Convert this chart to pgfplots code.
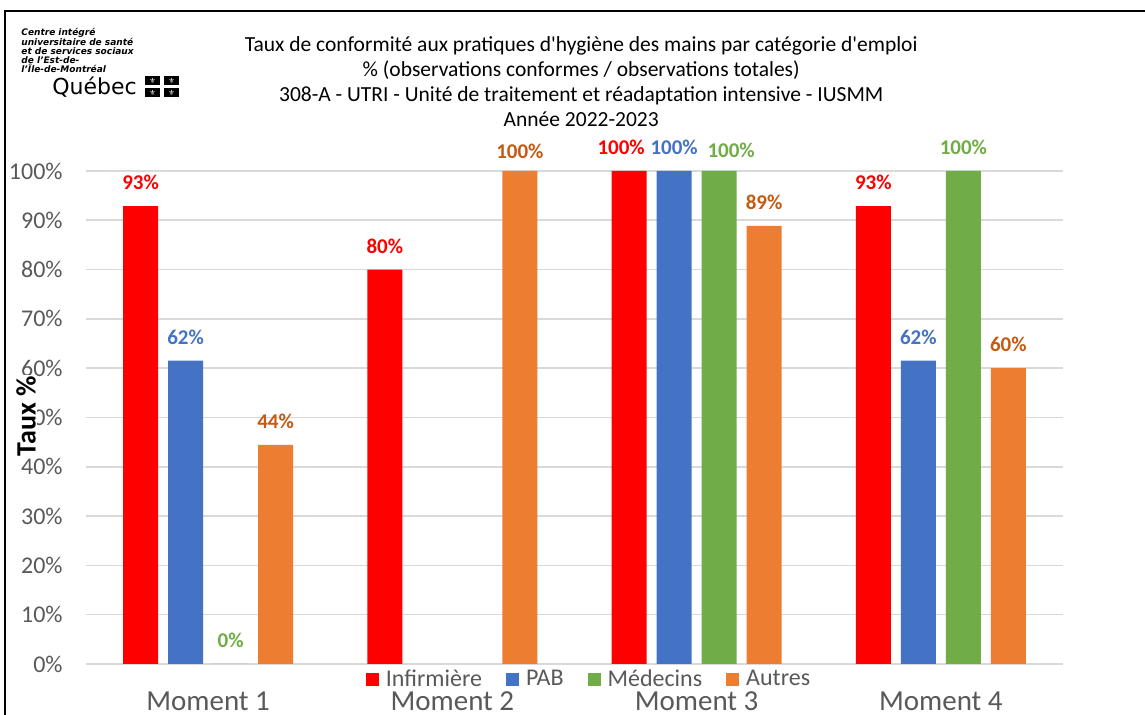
\documentclass[border=0pt]{standalone}
\usepackage{pgfplots}
\usepackage{pgfplotstable}
\pgfplotsset{compat=1.18}
\usepackage{fontspec}
\setmainfont{Carlito}[Ligatures=TeXOff]
\newfontfamily\logofont{DejaVu Sans}
\definecolor{cred}{HTML}{FF0000}
\definecolor{cblue}{HTML}{4472C4}
\definecolor{cgreen}{HTML}{70AD47}
\definecolor{corange}{HTML}{ED7D31}
\definecolor{corangelab}{HTML}{C55A11}
\definecolor{cgray}{HTML}{595959}
\definecolor{cgrid}{HTML}{D9D9D9}
\pgfplotsset{sqlegend/.style={legend image code/.code={\fill[##1] (0pt,-3.25pt) rectangle (6.5pt,3.25pt);}}}
% x = moment index, y = value (%), dx/dy = label offsets (pt)
\pgfplotstableread{
x y dx dy
0 92.86 0 4.5
1 80 0 4.5
2 100 -4 4.5
3 92.86 0 4.5
}\infirmiere
\pgfplotstableread{
x y dx dy
0 61.54 0 4.5
2 100 0 4.5
3 61.54 0 4.5
}\pab
\pgfplotstableread{
x y dx dy
0 0 0 4.5
2 100 6 3
3 100 0 4.5
}\medecins
\pgfplotstableread{
x y dx dy
0 44.44 0 4.5
1 100 0 2.5
2 88.89 0 4.5
3 60 0 4.5
}\autres
\begin{document}
\begin{tikzpicture}
\useasboundingbox (0,0) rectangle (572.5pt,357.5pt);
\fill[white] (0,0) rectangle (572.5pt,357.5pt);
\draw[line width=0.9pt] (2.5pt,0) -- (2.5pt,352pt) -- (572.5pt,352pt);
% logo
\begin{scope}[every node/.style={anchor=base west, inner sep=0pt, font=\logofont\bfseries\itshape\fontsize{4.5}{5}\selectfont}]
\node at (10.5pt,339.5pt) {Centre intégré};
\node at (10.5pt,334.9pt) {universitaire de santé};
\node at (10.5pt,330.3pt) {et de services sociaux};
\node at (10.5pt,325.7pt) {de l’Est-de-};
\node at (10.5pt,321.1pt) {l’Île-de-Montréal};
\end{scope}
\node[anchor=base west, inner sep=0pt, font=\logofont\fontsize{11}{12}\selectfont] at (26pt,310pt) {Québec};
\foreach \x in {72.5pt,82pt}{
  \foreach \y in {309pt,315pt}{
    \fill[black] (\x,\y) rectangle ++(7.5pt,4.5pt);
    \node[text=white, inner sep=0pt, font=\logofont\fontsize{3.6}{3}\selectfont] at ([xshift=3.75pt,yshift=2.25pt]\x,\y) {⚜};
  }
}
% title
\begin{scope}[every node/.style={anchor=base, inner sep=0pt, font=\fontsize{10.75}{12}\selectfont}]
\node at (290.6pt,331.6pt) {Taux de conformité aux pratiques d'hygiène des mains par catégorie d'emploi};
\node at (290.6pt,319.1pt) {\% (observations conformes / observations totales)};
\node at (290.6pt,306.6pt) {308-A - UTRI - Unité de traitement et réadaptation intensive - IUSMM};
\node at (290.6pt,294.1pt) {Année 2022-2023};
\end{scope}
\begin{axis}[
  at={(43pt,25.5pt)}, anchor=south west,
  scale only axis, width=488.5pt, height=246.5pt,
  xmin=-0.5, xmax=3.5, ymin=0, ymax=100,
  clip=false,
  ybar=5pt, bar width=17.5pt,
  axis line style={draw=none},
  major tick length=0pt, tick style={draw=none},
  ymajorgrids, grid style={color=cgrid, line width=0.8pt},
  ytick={0,10,...,100},
  yticklabel={\pgfmathprintnumber{\tick}\%},
  /pgf/number format/assume math mode=true,
  yticklabel style={font=\fontsize{12}{14}\selectfont, text=cgray, anchor=east, inner sep=0pt, xshift=-11.5pt},
  xtick={0,1,2,3}, xticklabels={Moment 1,Moment 2,Moment 3,Moment 4},
  xticklabel style={font=\fontsize{14.5}{16}\selectfont, text=cgray, anchor=base, inner sep=0pt, yshift=-23.5pt},
  visualization depends on={\thisrow{dx} \as \dx},
  visualization depends on={\thisrow{dy} \as \dy},
  nodes near coords={\pgfmathprintnumber[fixed,precision=0]{\pgfplotspointmeta}\%},
  every node near coord/.append style={font=\bfseries\fontsize{10.5}{12}\selectfont, xshift=\dx pt, yshift=\dy pt},
  legend style={draw=none, fill=none, at={(0.5138,-0.032)}, anchor=center,
    font=\fontsize{12}{14}\selectfont, text=cgray,
    /tikz/every odd column/.append style={column sep=3.5pt},
    /tikz/every even column/.append style={column sep=12pt},
    nodes={inner xsep=0pt, inner ysep=0.5pt}},
  legend columns=4, legend cell align=left,
]
\addplot[fill=cred, draw=none, sqlegend, every node near coord/.append style={text=cred}]
  table[x=x, y=y] {\infirmiere};
\addplot[fill=cblue, draw=none, sqlegend, every node near coord/.append style={text=cblue}]
  table[x=x, y=y] {\pab};
\addplot[fill=cgreen, draw=none, sqlegend, every node near coord/.append style={text=cgreen}]
  table[x=x, y=y] {\medecins};
\addplot[fill=corange, draw=none, sqlegend, every node near coord/.append style={text=corangelab}]
  table[x=x, y=y] {\autres};
\legend{Infirmière,PAB,Médecins,Autres}
\end{axis}
\node[rotate=90, fill=white, inner sep=0.5pt, font=\bfseries\fontsize{14}{16}\selectfont] at (13pt,149.5pt) {Taux \%};
\end{tikzpicture}
\end{document}
